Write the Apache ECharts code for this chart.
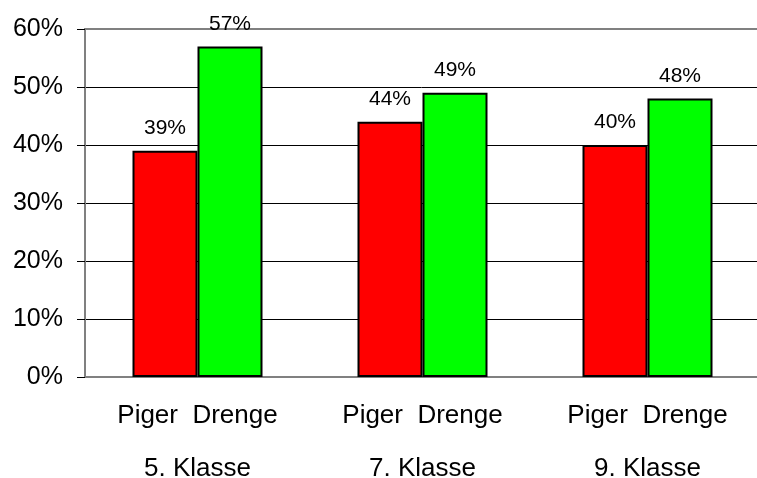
<!DOCTYPE html>
<html>
<head>
<meta charset="utf-8">
<script src="https://cdn.jsdelivr.net/npm/echarts@6/dist/echarts.min.js"></script>
<style>html,body{margin:0;padding:0;background:#fff}#c{width:757px;height:478px}</style>
</head>
<body>
<div id="c"></div>
<script>
var categories = ['5. Klasse', '7. Klasse', '9. Klasse'];
var seriesNames = ['Piger', 'Drenge'];
var piger = [39, 44, 40];
var drenge = [57, 49, 48];
var yTicks = [0, 10, 20, 30, 40, 50, 60];

var chart = echarts.init(document.getElementById('c'));
var font = 'Liberation Sans, Arial, sans-serif';
chart.setOption({
  animation: false,
  grid: { left: 85, right: -3, top: 29, bottom: 101, outerBoundsMode: 'none', containLabel: false,
          show: true, borderColor: '#808080', borderWidth: 2, backgroundColor: 'transparent' },
  xAxis: {
    type: 'category',
    data: categories,
    axisLine: { lineStyle: { color: '#808080', width: 2 } },
    axisTick: { show: false },
    axisLabel: {
      fontFamily: font, fontSize: 26, color: '#000', margin: 12, lineHeight: 53,
      formatter: function (v) { return seriesNames.join('  ') + '\n' + v; }
    }
  },
  yAxis: {
    type: 'value', min: yTicks[0], max: yTicks[yTicks.length - 1], interval: 10,
    axisLine: { show: true, lineStyle: { color: '#808080', width: 2 } },
    axisTick: { show: true, length: 8, lineStyle: { color: '#000' } },
    axisLabel: { fontFamily: font, fontSize: 25, color: '#000', margin: 22, formatter: '{value}%' },
    splitLine: { lineStyle: { color: ['#808080', '#000', '#000', '#000', '#000', '#000', '#808080'], width: 1 } }
  },
  series: [
    { name: seriesNames[0], type: 'bar', data: piger, barWidth: 65, barGap: '0%',
      itemStyle: { color: '#FF0000', borderColor: '#000', borderWidth: 2 },
      label: { show: true, position: 'top', distance: 12, formatter: '{c}%', fontFamily: font, fontSize: 21, color: '#000' } },
    { name: seriesNames[1], type: 'bar', data: drenge, barWidth: 65, barGap: '0%',
      itemStyle: { color: '#00FF00', borderColor: '#000', borderWidth: 2 },
      label: { show: true, position: 'top', distance: 12, formatter: '{c}%', fontFamily: font, fontSize: 21, color: '#000' } }
  ]
});
</script>
</body>
</html>
